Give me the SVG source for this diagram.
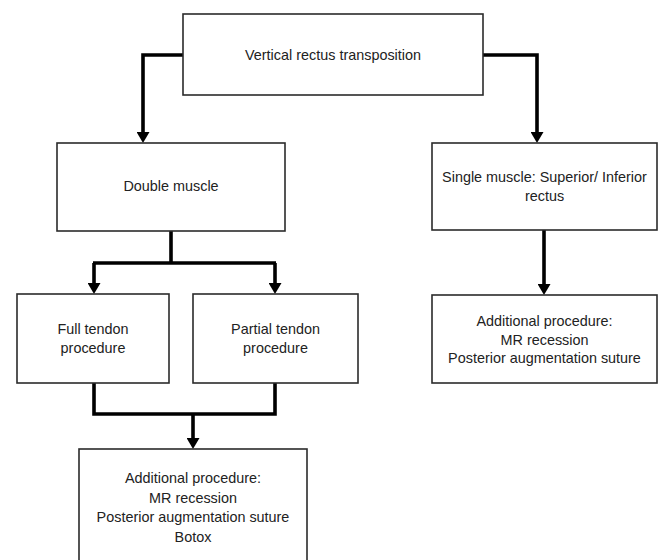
<svg xmlns="http://www.w3.org/2000/svg" width="660" height="560" viewBox="0 0 660 560">
  <style>
    .box { fill: #ffffff; stroke: #2b2b2b; stroke-width: 1.6; }
    .lbl { font-family: "Liberation Sans", Arial, sans-serif; font-size: 14.4px; fill: #222222; text-anchor: middle; }
    .conn { fill: none; stroke: #000000; stroke-width: 3.6; stroke-linejoin: miter; stroke-linecap: butt; }
  </style>
  <defs>
    <marker id="arrow" markerUnits="userSpaceOnUse" markerWidth="11" markerHeight="13" viewBox="0 0 11 13" refX="1" refY="6.5" orient="auto">
      <path d="M0,0 L11,6.5 L0,13 Z" fill="#000000"/>
    </marker>
  </defs>
  <rect width="660" height="560" fill="#ffffff"/>

  <g id="connectors">
    <path class="conn" d="M183,55 H143 V133" marker-end="url(#arrow)"/>
    <path class="conn" d="M483,55 H537 V133" marker-end="url(#arrow)"/>
    <path class="conn" d="M171,231 V263"/>
    <path class="conn" d="M93,263 H276"/>
    <path class="conn" d="M94,263 V284" marker-end="url(#arrow)"/>
    <path class="conn" d="M275,263 V284" marker-end="url(#arrow)"/>
    <path class="conn" d="M544,230 V285" marker-end="url(#arrow)"/>
    <path class="conn" d="M94,383 V414 H275 V383"/>
    <path class="conn" d="M193,414 V439" marker-end="url(#arrow)"/>
  </g>

  <g id="node-vrt">
    <rect class="box" x="183" y="14" width="300" height="81"/>
    <text class="lbl" x="333" y="60">Vertical rectus transposition</text>
  </g>

  <g id="node-double">
    <rect class="box" x="57" y="143" width="228" height="88"/>
    <text class="lbl" x="171" y="191">Double  muscle</text>
  </g>

  <g id="node-single">
    <rect class="box" x="432" y="143" width="225" height="87"/>
    <text class="lbl" x="544.5" y="182">Single muscle: Superior/ Inferior</text>
    <text class="lbl" x="544.5" y="201">rectus</text>
  </g>

  <g id="node-full">
    <rect class="box" x="17" y="294" width="152" height="89"/>
    <text class="lbl" x="93" y="334">Full tendon</text>
    <text class="lbl" x="93" y="353">procedure</text>
  </g>

  <g id="node-partial">
    <rect class="box" x="193" y="294" width="165" height="89"/>
    <text class="lbl" x="275.5" y="334">Partial tendon</text>
    <text class="lbl" x="275.5" y="353">procedure</text>
  </g>

  <g id="node-additional-single">
    <rect class="box" x="432" y="295" width="225" height="88"/>
    <text class="lbl" x="544.5" y="326">Additional procedure:</text>
    <text class="lbl" x="544.5" y="344.5">MR recession</text>
    <text class="lbl" x="544.5" y="363">Posterior augmentation suture</text>
  </g>

  <g id="node-additional-double">
    <rect class="box" x="79" y="449" width="228" height="118"/>
    <text class="lbl" x="193" y="483">Additional procedure:</text>
    <text class="lbl" x="193" y="502.5">MR recession</text>
    <text class="lbl" x="193" y="522">Posterior augmentation suture</text>
    <text class="lbl" x="193" y="541.5">Botox</text>
  </g>
</svg>
